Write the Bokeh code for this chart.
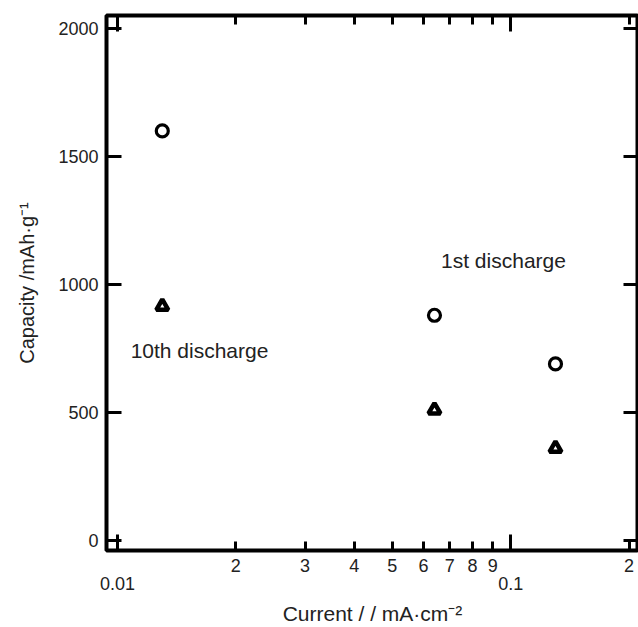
from bokeh.plotting import figure
from bokeh.models import Range1d, LogAxis, LinearAxis, FixedTicker, Label
from bokeh.embed import file_html
from bokeh.resources import INLINE

# ---- data ----
current = [0.013, 0.064, 0.13]
first_discharge = [1600, 880, 690]
tenth_discharge = [915, 510, 360]

y_ticks = [0, 500, 1000, 1500, 2000]
x_decade_ticks = [0.01, 0.1]
x_decade_labels = ["0.01", "0.1"]
x_minor_ticks = [0.02, 0.03, 0.04, 0.05, 0.06, 0.07, 0.08, 0.09, 0.2]
x_minor_labels = ["2", "3", "4", "5", "6", "7", "8", "9", "2"]

note_x = [0.0665, 0.0108]
note_y = [1095, 741]
note_text = ["1st discharge", "10th discharge"]

FONT = "Liberation Sans"

p = figure(width=638, height=627, x_axis_type="log",
           x_axis_location=None, y_axis_location=None,
           x_range=Range1d(0.009377, 0.2114), y_range=Range1d(-39, 2051),
           output_backend="svg", toolbar_location=None,
           min_border_left=106, min_border_right=0, min_border_top=15,
           min_border_bottom=0)
p.grid.grid_line_color = None
p.outline_line_color = "black"
p.outline_line_width = 4
p.outline_line_alpha = 1.0
p.background_fill_color = "white"
p.border_fill_color = "white"


def style(ax):
    ax.axis_line_color = None
    ax.major_tick_line_color = "black"
    ax.minor_tick_line_color = "black"
    ax.major_tick_line_width = 3
    ax.minor_tick_line_width = 3
    ax.major_tick_out = 0
    ax.minor_tick_out = 0
    ax.major_label_standoff = 0
    ax.major_label_text_font = FONT
    ax.major_label_text_color = "#222222"
    ax.axis_label_text_font = FONT
    ax.axis_label_text_font_style = "normal"
    ax.axis_label_text_color = "#222222"


# left axis
yl = LinearAxis(ticker=FixedTicker(ticks=y_ticks, minor_ticks=[]),
                axis_label="Capacity /mAh·g⁻¹")
style(yl)
yl.major_tick_in = 15
yl.major_label_standoff = 8
yl.major_label_text_font_size = "18px"
yl.axis_label_text_font_size = "20px"
yl.axis_label_standoff = 17
p.add_layout(yl, "left")

# right axis: ticks only (as unlabeled minor ticks)
yr = LinearAxis(ticker=FixedTicker(ticks=[], minor_ticks=y_ticks))
style(yr)
yr.minor_tick_in = 15
p.add_layout(yr, "right")

# bottom axis A: digit labels on intermediate ticks, long ticks at decades
xa = LogAxis(ticker=FixedTicker(ticks=x_minor_ticks, minor_ticks=x_decade_ticks),
             major_label_overrides=dict(zip(x_minor_ticks, x_minor_labels)))
style(xa)
xa.major_tick_in = 9
xa.minor_tick_in = 16
xa.major_label_standoff = 8
xa.major_label_text_font_size = "18px"
p.add_layout(xa, "below")

# bottom axis B: decade labels + title
xb = LogAxis(ticker=FixedTicker(ticks=x_decade_ticks, minor_ticks=[]),
             major_label_overrides=dict(zip(x_decade_ticks, x_decade_labels)),
             axis_label="Current / / mA·cm⁻²")
style(xb)
xb.major_tick_line_color = None
xb.major_tick_in = 0
xb.major_label_standoff = 2
xb.major_label_text_font_size = "18px"
xb.axis_label_text_font_size = "21px"
xb.axis_label_standoff = 9
p.add_layout(xb, "below")

# top axes: ticks only (unlabeled minor ticks), two lengths
xt1 = LogAxis(ticker=FixedTicker(ticks=[], minor_ticks=x_decade_ticks))
style(xt1)
xt1.minor_tick_in = 16
p.add_layout(xt1, "above")
xt2 = LogAxis(ticker=FixedTicker(ticks=[], minor_ticks=x_minor_ticks))
style(xt2)
xt2.minor_tick_in = 9
p.add_layout(xt2, "above")

# data
p.scatter(current, first_discharge, marker="circle", size=12, line_width=3.2,
          line_color="black", fill_color="white")
p.scatter(current, tenth_discharge, marker="triangle", size=12, line_width=4.5,
          line_color="black", fill_color="white")

for x, y, t in zip(note_x, note_y, note_text):
    p.add_layout(Label(x=x, y=y, text=t, text_baseline="middle",
                       text_font=FONT, text_font_size="21px",
                       text_color="#222222"))

open("out.html", "w").write(file_html(p, INLINE))
